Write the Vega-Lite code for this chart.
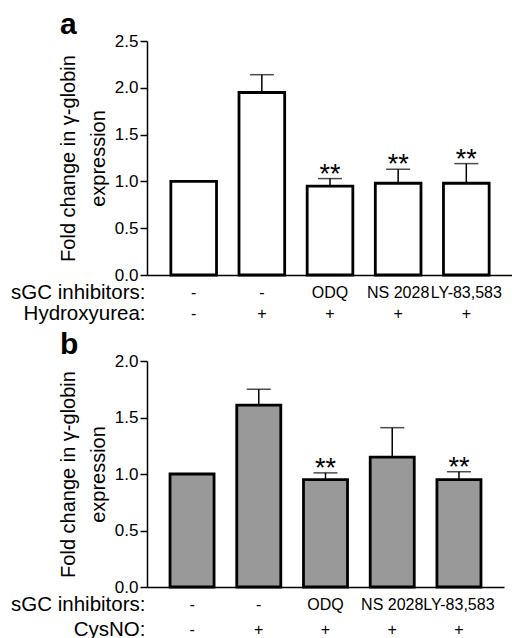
{
  "$schema": "https://vega.github.io/schema/vega-lite/v6.json",
  "padding": {"left": 10, "top": 10, "right": 0, "bottom": 0},
  "spacing": 6,
  "datasets": {
    "hu": [
      {"cat": "-|-", "mean": 1.0, "err": null, "sig": ""},
      {"cat": "-|+", "mean": 1.95, "err": 2.14, "sig": ""},
      {"cat": "ODQ|+", "mean": 0.95, "err": 1.03, "sig": "**"},
      {"cat": "NS 2028|+", "mean": 0.98, "err": 1.13, "sig": "**"},
      {"cat": "LY-83,583|+", "mean": 0.98, "err": 1.19, "sig": "**"}
    ],
    "cysno": [
      {"cat": "-|-", "mean": 1.0, "err": null, "sig": ""},
      {"cat": "-|+", "mean": 1.61, "err": 1.75, "sig": ""},
      {"cat": "ODQ|+", "mean": 0.95, "err": 1.01, "sig": "**"},
      {"cat": "NS 2028|+", "mean": 1.15, "err": 1.41, "sig": ""},
      {"cat": "LY-83,583|+", "mean": 0.95, "err": 1.02, "sig": "**"}
    ]
  },
  "vconcat": [
    {
      "width": 366,
      "height": 234,
      "data": {"name": "hu"},
      "title": {"text": "a", "anchor": "start", "frame": "group", "dx": -87, "fontSize": 30, "fontWeight": "bold", "offset": -8},
      "encoding": {
        "x": {
          "field": "cat",
          "type": "nominal",
          "sort": null,
          "scale": {"paddingInner": 0.33, "paddingOuter": 0.35},
          "axis": {
            "title": ["sGC inhibitors:", "Hydroxyurea:"],
            "labelExpr": "split(datum.value, '|')",
            "labelLineHeight": 21,
            "titleLineHeight": 21,
            "labelPadding": 17,
            "titleY": 17
          }
        }
      },
      "layer": [
        {
          "mark": {"type": "rule", "color": "black", "strokeWidth": 1.5},
          "encoding": {
            "y": {"field": "mean", "type": "quantitative"},
            "y2": {"field": "err"}
          }
        },
        {
          "mark": {"type": "tick", "color": "black", "thickness": 1.5, "size": 24, "orient": "horizontal"},
          "encoding": {"y": {"field": "err", "type": "quantitative"}}
        },
        {
          "mark": {"type": "bar", "fill": "white", "stroke": "black", "strokeWidth": 2.8},
          "encoding": {
            "y": {
              "field": "mean",
              "type": "quantitative",
              "scale": {"domain": [0, 2.5], "nice": false},
              "axis": {"values": [0, 0.5, 1, 1.5, 2, 2.5], "title": ["Fold change in γ-globin", "expression"]}
            }
          }
        },
        {
          "mark": {"type": "text", "fontSize": 27, "fontWeight": 300, "baseline": "alphabetic", "dy": 4},
          "encoding": {
            "y": {"field": "err", "type": "quantitative"},
            "text": {"field": "sig"}
          }
        }
      ]
    },
    {
      "width": 357,
      "height": 226,
      "data": {"name": "cysno"},
      "title": {"text": "b", "anchor": "start", "frame": "group", "dx": -87, "fontSize": 30, "fontWeight": "bold", "offset": -8},
      "encoding": {
        "x": {
          "field": "cat",
          "type": "nominal",
          "sort": null,
          "scale": {"paddingInner": 0.34, "paddingOuter": 0.345},
          "axis": {
            "title": ["sGC inhibitors:", "CysNO:"],
            "labelExpr": "split(datum.value, '|')",
            "labelLineHeight": 25,
            "titleLineHeight": 25,
            "labelPadding": 17,
            "titleY": 17
          }
        }
      },
      "layer": [
        {
          "mark": {"type": "rule", "color": "black", "strokeWidth": 1.5},
          "encoding": {
            "y": {"field": "mean", "type": "quantitative"},
            "y2": {"field": "err"}
          }
        },
        {
          "mark": {"type": "tick", "color": "black", "thickness": 1.5, "size": 24, "orient": "horizontal"},
          "encoding": {"y": {"field": "err", "type": "quantitative"}}
        },
        {
          "mark": {"type": "bar", "fill": "#999999", "stroke": "black", "strokeWidth": 2.8},
          "encoding": {
            "y": {
              "field": "mean",
              "type": "quantitative",
              "scale": {"domain": [0, 2], "nice": false},
              "axis": {"values": [0, 0.5, 1, 1.5, 2], "title": ["Fold change in γ-globin", "expression"]}
            }
          }
        },
        {
          "mark": {"type": "text", "fontSize": 27, "fontWeight": 300, "baseline": "alphabetic", "dy": 4},
          "encoding": {
            "y": {"field": "err", "type": "quantitative"},
            "text": {"field": "sig"}
          }
        }
      ]
    }
  ],
  "config": {
    "font": "Liberation Sans",
    "view": {"stroke": null},
    "title": {"font": "Liberation Sans", "color": "black", "baseline": "alphabetic"},
    "axis": {
      "labelFont": "Liberation Sans",
      "titleFont": "Liberation Sans",
      "labelColor": "black",
      "titleColor": "black",
      "domainColor": "black",
      "domainWidth": 1.5,
      "grid": false,
      "titleFontWeight": "normal"
    },
    "axisY": {
      "tickColor": "black",
      "tickWidth": 1.5,
      "tickSize": 7,
      "labelFontSize": 17,
      "labelPadding": 2,
      "labelExpr": "format(datum.value, '.1f')",
      "titleFontSize": 20,
      "titleLineHeight": 30,
      "titlePadding": 6
    },
    "axisX": {
      "ticks": false,
      "labelAngle": 0,
      "labelFontSize": 16,
      "labelBaseline": "middle",
      "labelOverlap": false,
      "labelBound": false,
      "titleFontSize": 20.5,
      "titleAlign": "right",
      "titleBaseline": "middle",
      "titleAngle": 0,
      "titleX": -2
    }
  }
}
